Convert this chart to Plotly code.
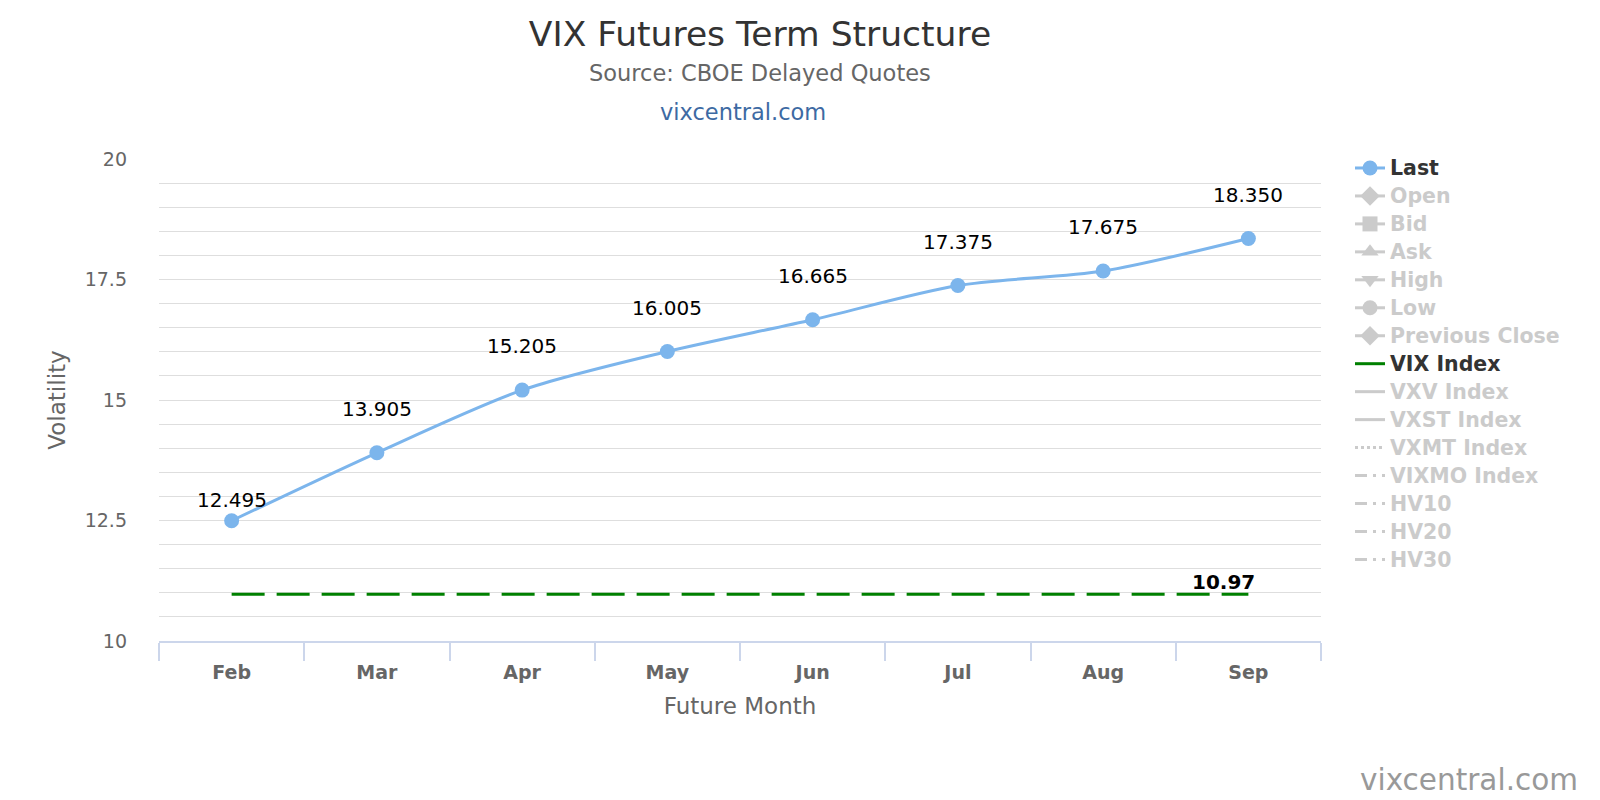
import plotly.graph_objects as go

months = ["Feb", "Mar", "Apr", "May", "Jun", "Jul", "Aug", "Sep"]
last_values = [12.495, 13.905, 15.205, 16.005, 16.665, 17.375, 17.675, 18.350]
last_labels = ["12.495", "13.905", "15.205", "16.005", "16.665", "17.375", "17.675", "18.350"]
vix_index = [10.97, 10.97, 10.97, 10.97, 10.97, 10.97, 10.97, 10.97]
vix_label = "10.97"
no_data = [None, None, None, None, None, None, None, None]

hidden_series = [
    ("Open", "diamond"),
    ("Bid", "square"),
    ("Ask", "triangle-up"),
    ("High", "triangle-down"),
    ("Low", "circle"),
    ("Previous Close", "diamond"),
]
hidden_lines = [
    ("VXV Index", "solid"),
    ("VXST Index", "solid"),
    ("VXMT Index", "dot"),
    ("VIXMO Index", "12px,6px,3px,6px"),
    ("HV10", "12px,6px,3px,6px"),
    ("HV20", "12px,6px,3px,6px"),
    ("HV30", "12px,6px,3px,6px"),
]

FONT = "DejaVu Sans"
GRID = "#dedede"
AXIS = "#ccd6eb"
HID = "#999999"
LEG_TXT = "font-size:20.5px"

# plot area in page pixels
PL, PR, PT, PB = 159, 1321, 159, 641
W, H = 1600, 800
def px(x):
    return (x - PL) / (PR - PL)
def py(y):
    return (PB - y) / (PB - PT)

fig = go.Figure()

fig.add_trace(go.Scatter(
    x=months, y=last_values, name=f"<span style='color:#333333;{LEG_TXT}'>Last</span>",
    mode="lines+markers", line=dict(color="#7cb5ec", width=3, shape="spline", smoothing=0.8),
    marker=dict(color="#7cb5ec", size=15, symbol="circle"),
    legendgroup="a", hoverinfo="x+y",
))

for i, (nm, sym) in enumerate(hidden_series):
    fig.add_trace(go.Scatter(
        x=months, y=no_data, name=f"<span style='color:{HID};{LEG_TXT}'>{nm}</span>", mode="lines+markers",
        line=dict(color=HID, width=3),
        marker=dict(color=HID, size=15, symbol=sym),
        visible="legendonly", legendgroup=f"h{i}",
    ))

fig.add_trace(go.Scatter(
    x=months, y=vix_index, name=f"<span style='color:#333333;{LEG_TXT}'>VIX Index</span>",
    mode="lines", line=dict(color="#008000", width=3, dash="33px,12px"),
    legendgroup="v",
))

for i, (nm, dash) in enumerate(hidden_lines):
    fig.add_trace(go.Scatter(
        x=months, y=no_data, name=f"<span style='color:{HID};{LEG_TXT}'>{nm}</span>", mode="lines",
        line=dict(color=HID, width=3, dash=dash),
        visible="legendonly", legendgroup=f"l{i}",
    ))

annotations = []
for i, (m, v, t) in enumerate(zip(months, last_values, last_labels)):
    annotations.append(dict(
        x=m, y=v, text=t, showarrow=False, xref="x", yref="y",
        yshift=21 if i == 0 else 44, font=dict(family=FONT, size=20, color="#000000"),
    ))
annotations.append(dict(
    x=months[-1], y=vix_index[-1], text=vix_label, showarrow=False, xref="x", yref="y",
    xshift=-25, yshift=12, font=dict(family=FONT, size=20, color="#000000", weight="bold"),
))
annotations += [
    dict(text="Source: CBOE Delayed Quotes", x=px(760), y=py(73), xref="paper", yref="paper",
         showarrow=False, font=dict(family=FONT, size=22.5, color="#666666"), xanchor="center", yanchor="middle"),
    dict(text="vixcentral.com", x=px(743), y=py(112), xref="paper", yref="paper",
         showarrow=False, font=dict(family=FONT, size=22.5, color="#3d6aa3"), xanchor="center", yanchor="middle"),
    dict(text="vixcentral.com", x=px(1580), y=py(780), xref="paper", yref="paper",
         showarrow=False, font=dict(family=FONT, size=29.5, color="#999999"), xanchor="right", yanchor="middle"),
]

fig.update_layout(
    width=W, height=H,
    paper_bgcolor="white", plot_bgcolor="white",
    margin=dict(l=PL, r=W - PR, t=PT, b=H - PB, autoexpand=False),
    font=dict(family=FONT, color="#666666"),
    title=dict(text="VIX Futures Term Structure", x=760 / W, xanchor="center", xref="container",
               y=1 - 34 / H, yanchor="middle", yref="container",
               font=dict(family=FONT, size=34.5, color="#333333")),
    showlegend=True,
    legend=dict(xref="container", yref="container", x=1350 / W, y=1 - 149 / H,
                xanchor="left", yanchor="top", traceorder="grouped", tracegroupgap=0,
                font=dict(family=FONT, size=19.2, color="#333333", weight="bold"),
                bgcolor="rgba(0,0,0,0)", itemwidth=30, maxheight=1),
    xaxis=dict(type="category", range=[-0.5, 7.5], tickson="boundaries", ticks="outside",
               ticklen=18, tickcolor=AXIS, tickwidth=2, showline=True, linecolor=AXIS, linewidth=2,
               showgrid=False, zeroline=False, ticklabelstandoff=13,
               tickfont=dict(family=FONT, size=19, color="#666666", weight="bold"),
               title=dict(text="Future Month", font=dict(family=FONT, size=23, color="#666666"), standoff=16)),
    yaxis=dict(range=[10, 20], dtick=2.5, tick0=10, showgrid=True, gridcolor=GRID, gridwidth=1,
               zeroline=False, showline=False, ticks="", ticklabelstandoff=31,
               tickfont=dict(family=FONT, size=19, color="#666666"),
               minor=dict(dtick=0.5, showgrid=True, gridcolor=GRID, gridwidth=1),
               title=dict(text="Volatility", font=dict(family=FONT, size=23, color="#666666"), standoff=12)),
    annotations=annotations,
    hovermode="closest",
)

fig.write_html("out.html", config={"displayModeBar": False},
               post_script="document.body.style.margin='0';document.body.style.overflow='hidden';")
